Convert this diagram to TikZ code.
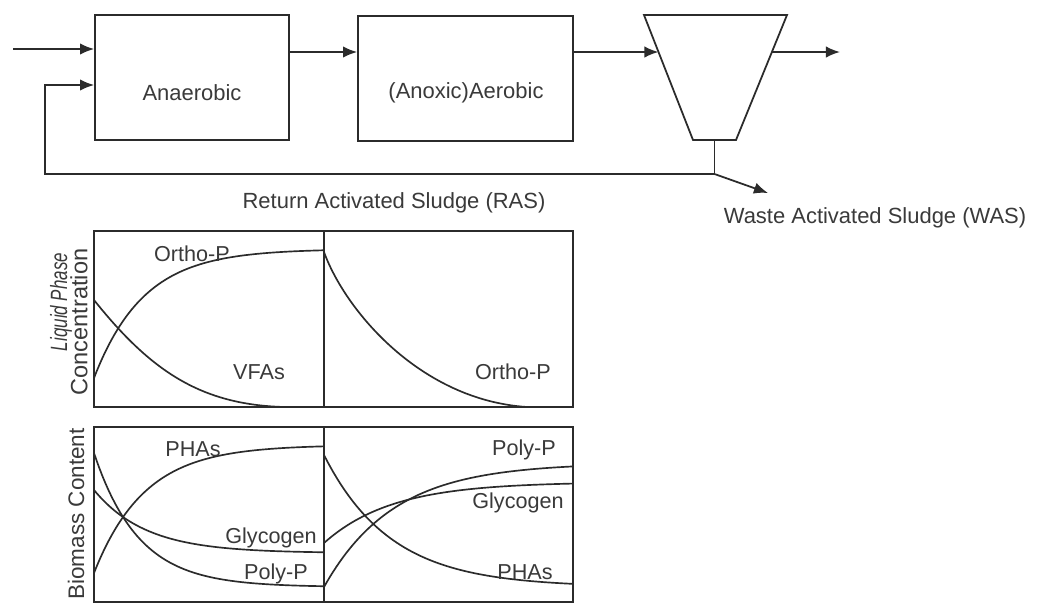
\documentclass[tikz,border=0pt]{standalone}
\usepackage{fontspec}
\setmainfont{Liberation Sans}
\usetikzlibrary{arrows.meta,calc}
\definecolor{ink}{HTML}{2B2B2B}
\definecolor{txt}{HTML}{3A3A3A}
\begin{document}
\begin{tikzpicture}[x=0.02cm,y=-0.02cm,
  box/.style={draw=ink, line width=1pt, minimum width=3.88cm, minimum height=2.5cm, inner sep=0pt},
  lbl/.style={text=txt, font=\fontsize{12.5}{14}\selectfont, inner sep=0pt},
  clbl/.style={text=txt, font=\fontsize{12.3}{14}\selectfont, inner sep=0pt},
  ylbl/.style={text=txt, font=\fontsize{13.4}{15}\selectfont, inner sep=0pt, rotate=90},
  flow/.style={draw=ink, line width=1pt, -{Latex[length=8pt,width=6.5pt]}},
  wire/.style={draw=ink, line width=1pt},
  curve/.style={draw=ink, line width=0.95pt}]
\useasboundingbox (0,0) rectangle (1042,603);
\fill[white] (0,0) rectangle (1042,603);

% ---- process flow ----
\node[box] (ana) at (192,77.5) {};
\node[box, minimum width=4.3cm] (aer) at (465.5,78.5) {};
\node[lbl] (anat) at (192,93) {Anaerobic};
\node[lbl] (aert) at (466,93) {(Anoxic)Aerobic};

\coordinate (c1) at (644,15);
\coordinate (c2) at (787,15);
\coordinate (c3) at (736,140);
\coordinate (c4) at (693,140);
\draw[wire, line join=miter] (c1) -- (c2) -- (c3) -- (c4) -- cycle;

\coordinate (in) at (13,49);
\coordinate (y52) at (0,52);
\coordinate (y85) at (0,85);
\coordinate (cin) at ($(c1)!0.296!(c4)$);
\coordinate (cout) at ($(c2)!0.296!(c3)$);
\coordinate (out) at (840,52);
\coordinate (cb) at ($(c3)!0.5!(c4)$);
\coordinate (split) at (714.5,174);
\coordinate (retc) at (45,174);
\coordinate (was) at (768,193);

\draw[flow] (in) -- (in -| ana.west);
\draw[flow] (ana.east |- y52) -- (aer.west |- y52);
\draw[flow] (aer.east |- y52) -- (cin);
\draw[flow] (cout) -- (out);
\draw[wire] (cb) -- (split);
\draw[flow] (split) -- (retc) |- (ana.west |- y85);
\draw[flow] (split) -- (was);

\node[lbl] (ras) at (394,203) {Return Activated Sludge (RAS)};
\node[lbl] (wast) at (875,218) {Waste Activated Sludge (WAS)};

% ---- liquid phase chart ----
\draw[curve] (94,231) rectangle (573,407);
\draw[curve] (324,231) -- (324,407);
\draw[curve] plot[domain=94:324, samples=80] (\x,{249+129*exp(-0.0201*(\x-94))});
\draw[curve] (94,300) .. controls (150,370) and (200,405) .. (285,407);
\draw[curve] (324,252) .. controls (345,310) and (420,400) .. (527,407);

\node[clbl] (op1) at (192,254) {Ortho-P};
\node[clbl] (vfa) at (259,372) {VFAs};
\node[clbl] (op2) at (513,372) {Ortho-P};

\node[ylbl] (liq) at (61,302) {\scalebox{0.72}[1]{\itshape Liquid Phase}};
\node[ylbl] (conc) at (79,322) {Concentration};

% ---- biomass chart ----
\draw[curve] (94,427) rectangle (573,602);
\draw[curve] (324,427) -- (324,602);
\draw[curve] plot[domain=94:324, samples=80] (\x,{445+128*exp(-0.0198*(\x-94))});
\draw[curve] plot[domain=94:324, samples=80] (\x,{587-134*exp(-0.0224*(\x-94))});
\draw[curve] plot[domain=94:324, samples=80] (\x,{553-63*exp(-0.0193*(\x-94))});
\draw[curve] plot[domain=324:573, samples=80] (\x,{587-132*exp(-0.015*(\x-324))});
\draw[curve] plot[domain=324:573, samples=80] (\x,{463+124*exp(-0.0144*(\x-324))});
\draw[curve] plot[domain=324:573, samples=80] (\x,{482+61*exp(-0.0147*(\x-324))});

\node[clbl] (pha1) at (193,449) {PHAs};
\node[clbl] (gly1) at (271,538) {Glycogen};
\node[clbl] (pp1) at (276,574) {Poly-P};
\node[clbl] (pp2) at (524,450) {Poly-P};
\node[clbl] (gly2) at (518,503) {Glycogen};
\node[clbl] (pha2) at (525,572) {PHAs};

\node[ylbl, font=\fontsize{12.8}{15}\selectfont] (bio) at (76,514) {Biomass Content};
\end{tikzpicture}
\end{document}
